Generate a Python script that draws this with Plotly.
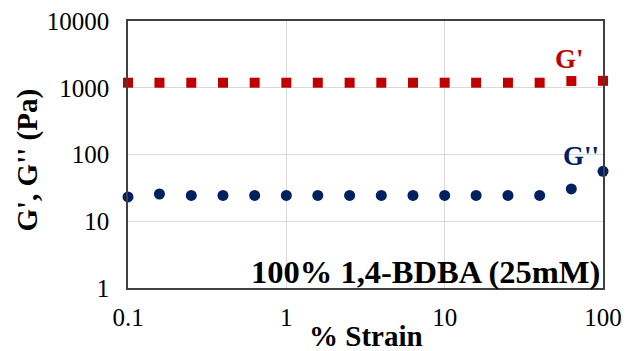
import plotly.graph_objects as go

strain = [0.1, 0.158, 0.251, 0.398, 0.631, 1.0, 1.58, 2.51, 3.98, 6.31, 10.0, 15.8, 25.1, 39.8, 63.1, 100.0]
g_prime = [1190, 1190, 1190, 1190, 1190, 1190, 1190, 1190, 1190, 1190, 1190, 1190, 1190, 1190, 1260, 1270]
g_dprime = [23.1, 25.6, 24.4, 24.4, 24.4, 24.4, 24.4, 24.4, 24.4, 24.4, 24.4, 24.4, 24.4, 24.4, 30.5, 56.0]

x_ticks = [0.1, 1, 10, 100]
x_ticktext = ["0.1", "1", "10", "100"]
y_ticks = [1, 10, 100, 1000, 10000]
y_ticktext = ["1", "10", "100", "1000", "10000"]

RED = "#C00000"
NAVY = "#002060"
FONT = "Liberation Serif"

fig = go.Figure()
fig.add_trace(go.Scatter(x=strain, y=g_prime, mode="markers", name="G'",
                         marker=dict(symbol="square", size=10, color=RED), cliponaxis=False))
fig.add_trace(go.Scatter(x=strain, y=g_dprime, mode="markers", name="G''",
                         marker=dict(symbol="circle", size=11, color=NAVY), cliponaxis=False))

fig.update_layout(
    width=626, height=351,
    margin=dict(l=128, r=23, t=21, b=63, autoexpand=False),
    paper_bgcolor="white", plot_bgcolor="white",
    showlegend=False,
    font=dict(family=FONT, size=25, color="black"),
    xaxis=dict(type="log", range=[-1, 2], tickvals=x_ticks, ticktext=x_ticktext,
               showgrid=True, gridcolor="#D9D9D9", gridwidth=1,
               showline=True, linecolor="#404040", linewidth=1.5, mirror=True,
               ticks="", ticklabelstandoff=6, zeroline=False, automargin=False,
               tickfont=dict(family=FONT, size=25, color="black")),
    yaxis=dict(type="log", range=[0, 4], tickvals=y_ticks, ticktext=y_ticktext,
               showgrid=True, gridcolor="#D9D9D9", gridwidth=1,
               showline=True, linecolor="#404040", linewidth=1.5, mirror=True,
               ticks="", ticklabelstandoff=12, zeroline=False, automargin=False,
               tickfont=dict(family=FONT, size=25, color="black")),
)

fig.add_annotation(text="<b>% Strain</b>", xref="paper", yref="paper", x=0.5, y=0,
                   yshift=-48, yanchor="middle", showarrow=False,
                   font=dict(family=FONT, size=29, color="black"))
fig.add_annotation(text="<b>G', G'' (Pa)</b>", xref="paper", yref="paper", x=0, y=0.5,
                   xshift=-101, yshift=-6, xanchor="center", yanchor="middle", textangle=-90,
                   showarrow=False, font=dict(family=FONT, size=29, color="black"))
fig.add_annotation(text="<b>G'</b>", xref="paper", yref="paper", x=1, y=1,
                   xshift=-17, yshift=-38, xanchor="right", yanchor="middle", showarrow=False,
                   font=dict(family=FONT, size=27, color=RED))
fig.add_annotation(text="<b>G''</b>", xref="paper", yref="paper", x=1, y=1,
                   xshift=-2, yshift=-135, xanchor="right", yanchor="middle", showarrow=False,
                   font=dict(family=FONT, size=27, color=NAVY))
fig.add_annotation(text="<b>100% 1,4-BDBA (25mM)</b>", xref="paper", yref="paper", x=1, y=0,
                   xshift=-1, yshift=16, xanchor="right", yanchor="middle", showarrow=False,
                   font=dict(family=FONT, size=32.5, color="black"))

fig.write_html("out.html", config={"displayModeBar": False},
               post_script="document.body.style.margin='0';")
